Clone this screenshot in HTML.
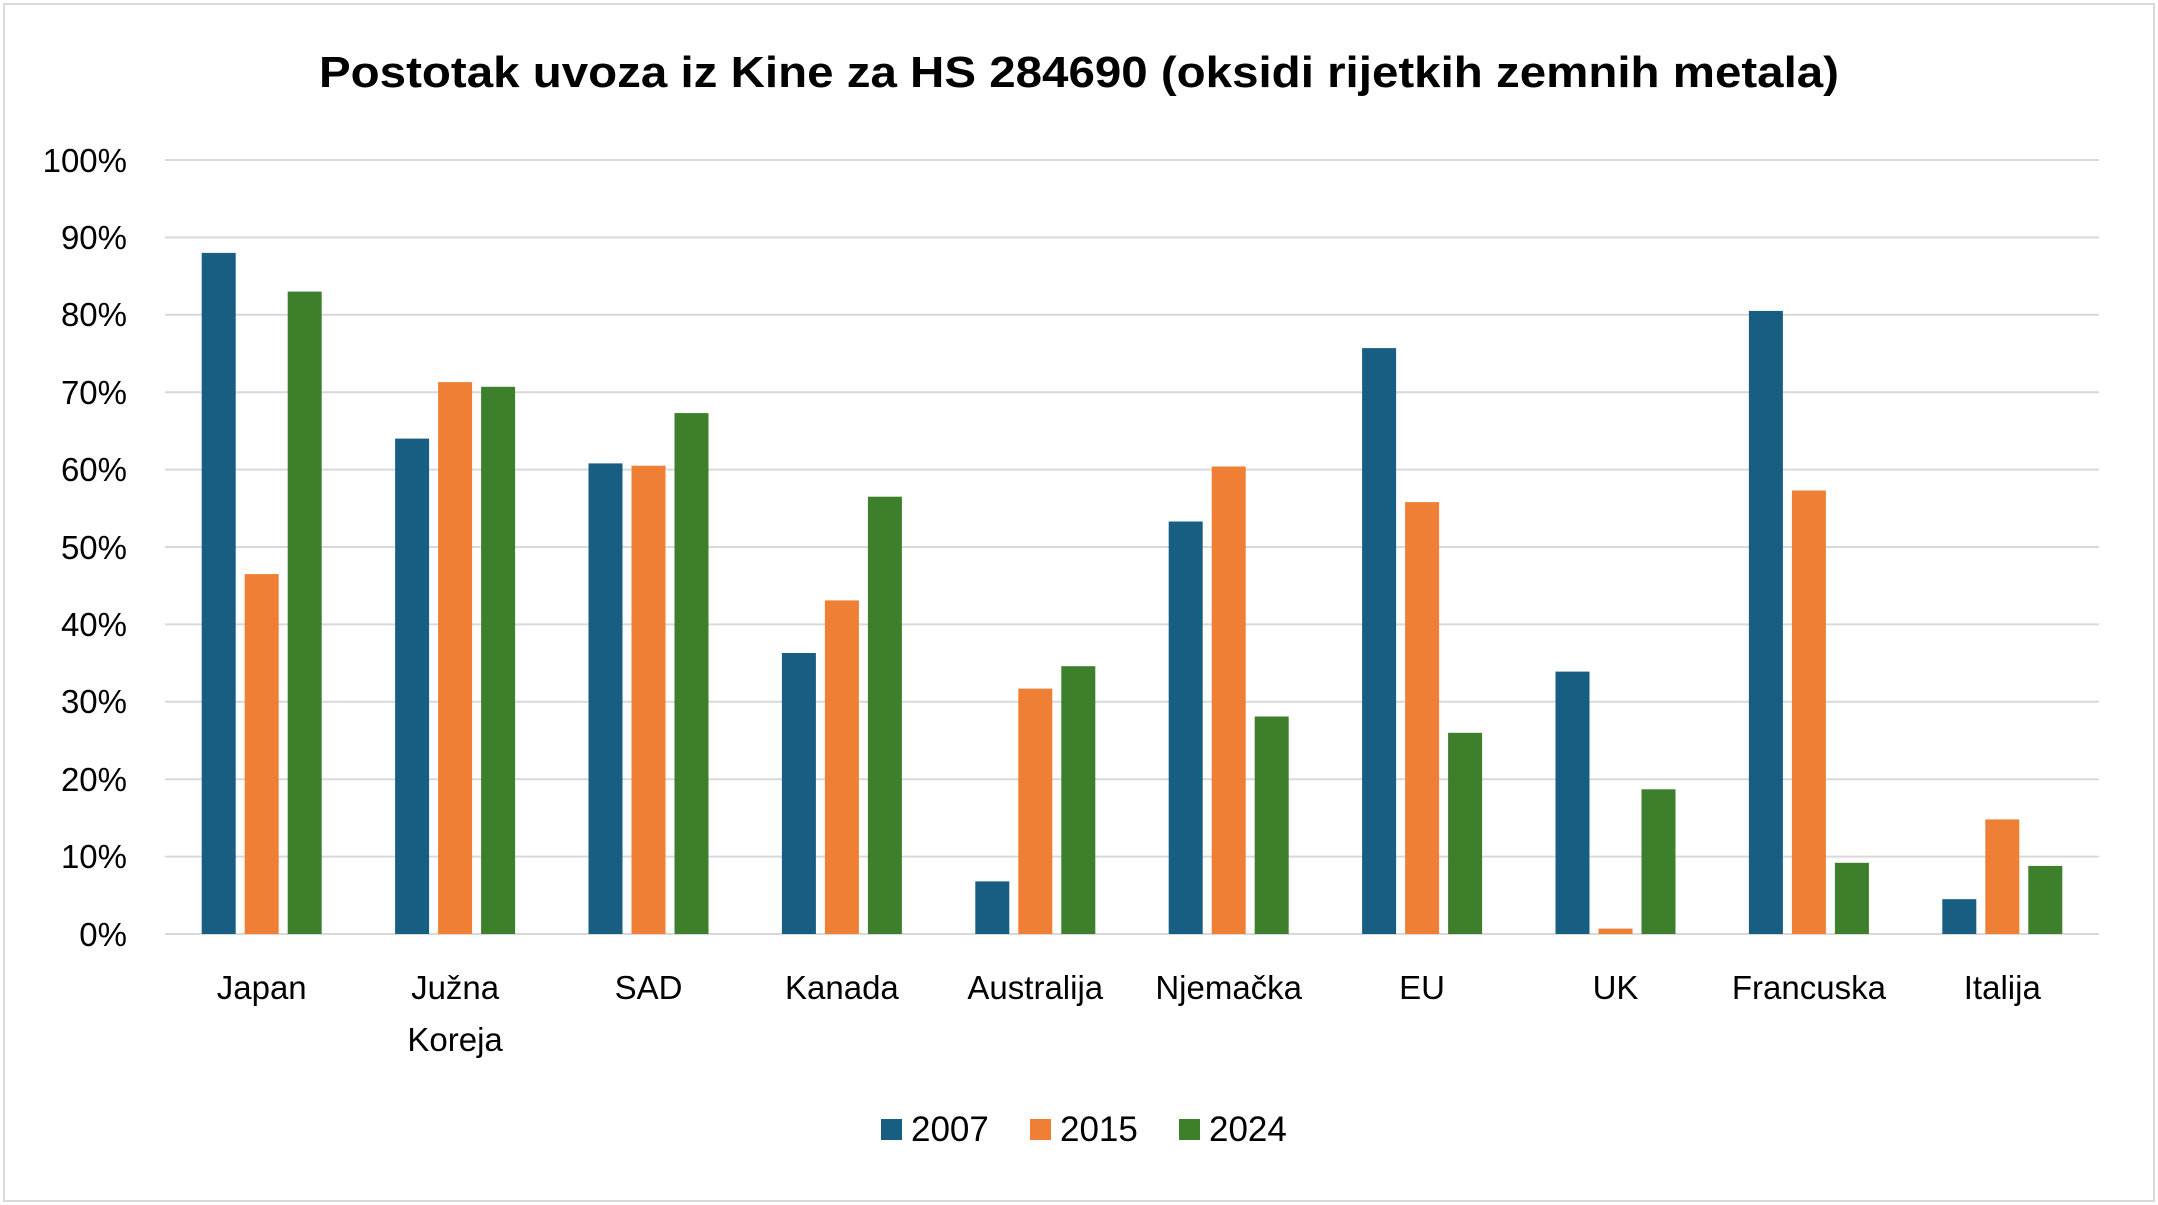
<!DOCTYPE html>
<html><head><meta charset="utf-8"><style>
html,body{margin:0;padding:0;background:#fff;}
svg{display:block;}
text{font-family:"Liberation Sans",sans-serif;fill:#000;}
</style></head><body>
<svg width="2158" height="1205" viewBox="0 0 2158 1205" xmlns="http://www.w3.org/2000/svg">
<rect x="0" y="0" width="2158" height="1205" fill="#fff"/>
<rect x="4" y="4" width="2150" height="1197" fill="none" stroke="#d9d9d9" stroke-width="2"/>
<text x="1079" y="87" font-size="44" font-weight="bold" text-anchor="middle" textLength="1520" lengthAdjust="spacingAndGlyphs">Postotak uvoza iz Kine za HS 284690 (oksidi rijetkih zemnih metala)</text>
<g transform="translate(0,-3)">
<g stroke="#d9d9d9" stroke-width="2">
<line x1="165" x2="2099" y1="163" y2="163"/><line x1="165" x2="2099" y1="240.4" y2="240.4"/>
<line x1="165" x2="2099" y1="317.8" y2="317.8"/><line x1="165" x2="2099" y1="395.2" y2="395.2"/>
<line x1="165" x2="2099" y1="472.6" y2="472.6"/><line x1="165" x2="2099" y1="550" y2="550"/>
<line x1="165" x2="2099" y1="627.4" y2="627.4"/><line x1="165" x2="2099" y1="704.8" y2="704.8"/>
<line x1="165" x2="2099" y1="782.2" y2="782.2"/><line x1="165" x2="2099" y1="859.6" y2="859.6"/>
<line x1="165" x2="2099" y1="937" y2="937"/>
</g>
<g font-size="33" text-anchor="end">
<text x="127" y="175">100%</text><text x="127" y="252">90%</text><text x="127" y="329">80%</text>
<text x="127" y="407">70%</text><text x="127" y="484">60%</text><text x="127" y="562">50%</text>
<text x="127" y="639">40%</text><text x="127" y="716">30%</text><text x="127" y="794">20%</text>
<text x="127" y="871">10%</text><text x="127" y="949">0%</text>
</g>
<g fill="#175e82">
<rect x="201.7" y="255.9" width="34" height="681.1"/><rect x="395.1" y="441.6" width="34" height="495.4"/>
<rect x="588.5" y="466.4" width="34" height="470.6"/><rect x="781.9" y="656" width="34" height="281"/>
<rect x="975.3" y="884.4" width="34" height="52.6"/><rect x="1168.7" y="524.5" width="34" height="412.5"/>
<rect x="1362.1" y="351.1" width="34" height="585.9"/><rect x="1555.5" y="674.6" width="34" height="262.4"/>
<rect x="1748.9" y="313.9" width="34" height="623.1"/><rect x="1942.3" y="902.2" width="34" height="34.8"/>
</g>
<g fill="#ee7f35">
<rect x="244.7" y="577.1" width="34" height="359.9"/><rect x="438.1" y="385.1" width="34" height="551.9"/>
<rect x="631.5" y="468.7" width="34" height="468.3"/><rect x="824.9" y="603.4" width="34" height="333.6"/>
<rect x="1018.3" y="691.6" width="34" height="245.4"/><rect x="1211.7" y="469.5" width="34" height="467.5"/>
<rect x="1405.1" y="505.1" width="34" height="431.9"/><rect x="1598.5" y="931.6" width="34" height="5.4"/>
<rect x="1791.9" y="493.5" width="34" height="443.5"/><rect x="1985.3" y="822.4" width="34" height="114.6"/>
</g>
<g fill="#3d7f2a">
<rect x="287.7" y="294.6" width="34" height="642.4"/><rect x="481.1" y="389.8" width="34" height="547.2"/>
<rect x="674.5" y="416.1" width="34" height="520.9"/><rect x="867.9" y="499.7" width="34" height="437.3"/>
<rect x="1061.3" y="669.2" width="34" height="267.8"/><rect x="1254.7" y="719.5" width="34" height="217.5"/>
<rect x="1448.1" y="735.8" width="34" height="201.2"/><rect x="1641.5" y="792.3" width="34" height="144.7"/>
<rect x="1834.9" y="865.8" width="34" height="71.2"/><rect x="2028.3" y="868.9" width="34" height="68.1"/>
</g>
</g>
<g font-size="33" text-anchor="middle">
<text x="261.7" y="999">Japan</text>
<text x="455.1" y="999">Južna</text><text x="455.1" y="1051">Koreja</text>
<text x="648.5" y="999">SAD</text><text x="841.9" y="999">Kanada</text>
<text x="1035.3" y="999">Australija</text><text x="1228.7" y="999">Njemačka</text>
<text x="1422.1" y="999">EU</text><text x="1615.5" y="999">UK</text>
<text x="1808.9" y="999">Francuska</text><text x="2002.3" y="999">Italija</text>
</g>
<rect x="881" y="1119" width="21" height="21" fill="#175e82"/>
<text x="911" y="1141" font-size="35">2007</text>
<rect x="1030" y="1119" width="21" height="21" fill="#ee7f35"/>
<text x="1060" y="1141" font-size="35">2015</text>
<rect x="1179" y="1119" width="21" height="21" fill="#3d7f2a"/>
<text x="1209" y="1141" font-size="35">2024</text>
</svg>
</body></html>
